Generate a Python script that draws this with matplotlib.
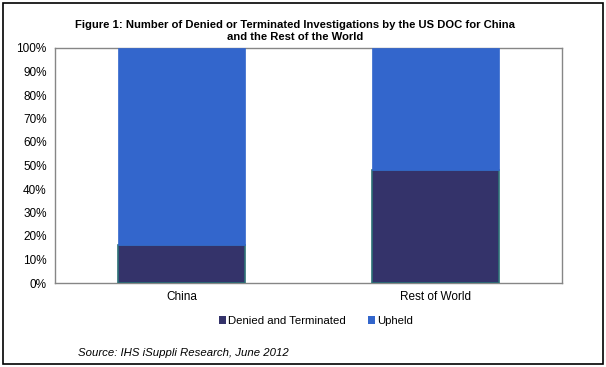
import matplotlib
matplotlib.use("Agg")
import matplotlib.pyplot as plt
from matplotlib.patches import Rectangle, Patch

categories = ["China", "Rest of World"]
denied = [16, 48]
upheld = [84, 52]
yticks = [0, 10, 20, 30, 40, 50, 60, 70, 80, 90, 100]

plt.rcParams['font.family'] = ['Liberation Sans', 'DejaVu Sans']

W, H = 606, 367
fig = plt.figure(figsize=(W / 100, H / 100), dpi=100)
ax = fig.add_axes([55 / W, 1 - 283 / H, (562 - 55) / W, (283 - 48) / H])

c_denied = '#34336A'
c_upheld = '#3366CC'
x = list(range(len(categories)))
ax.bar(x, denied, width=0.5, color=c_denied, edgecolor='#2D7177', linewidth=1.2, zorder=3)
ax.bar(x, upheld, width=0.5, bottom=denied, color=c_upheld, edgecolor=c_upheld, linewidth=0.5, zorder=3)

ax.set_xlim(-0.5, 1.5)
ax.set_ylim(0, 100)
ax.set_yticks(yticks)
ax.set_yticklabels([f"{v}%" for v in yticks], fontsize=8.5)
ax.set_xticks(x)
ax.set_xticklabels(categories, fontsize=8.5)
ax.tick_params(length=0, pad=6)
for s in ax.spines.values():
    s.set_color('#868686')
    s.set_linewidth(1)

fig.text(295 / W, 1 - 31 / H,
         "Figure 1: Number of Denied or Terminated Investigations by the US DOC for China\nand the Rest of the World",
         ha='center', va='center', fontsize=8.1, fontweight='bold', linespacing=1.2)

handles = [Patch(facecolor=c_denied, label="Denied and Terminated"),
           Patch(facecolor=c_upheld, label="Upheld")]
fig.legend(handles=handles, loc='center', bbox_to_anchor=(316 / W, 1 - 321 / H), ncol=2,
           frameon=False, fontsize=8.2, handlelength=0.6, handleheight=0.6, handletextpad=0.2,
           columnspacing=2.0)

fig.text(78 / W, 1 - 353 / H, "Source: IHS iSuppli Research, June 2012", fontsize=8.2,
         style='italic', va='center', ha='left')

fig.add_artist(Rectangle((3 / W, 3 / H), (603 - 3) / W, (364 - 3) / H, transform=fig.transFigure,
                         fill=False, edgecolor='black', linewidth=1.2))

fig.savefig("out.png", dpi=100)
